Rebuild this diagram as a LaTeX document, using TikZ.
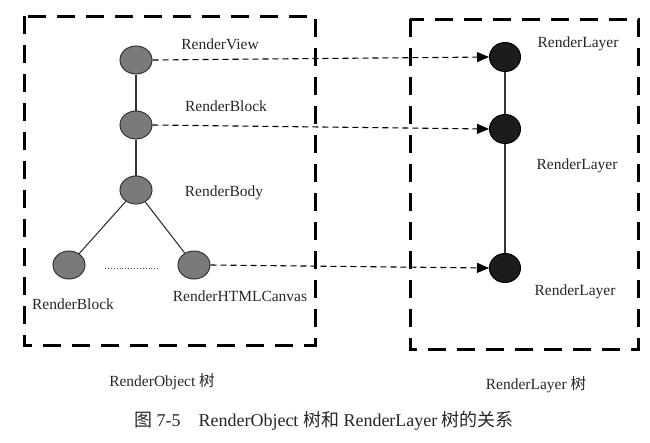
\documentclass[tikz,border=0pt]{standalone}
\usepackage{fontspec}
\setmainfont{Liberation Serif}
\newfontfamily\cjk{Noto Sans CJK SC}
\usepackage{tikz}
\usetikzlibrary{arrows.meta,positioning,shapes.geometric}
\definecolor{cObj}{HTML}{7A7A7A}
\definecolor{cLay}{HTML}{1C1C1C}
\definecolor{cEdge}{HTML}{333333}
\tikzset{
  objnode/.style ={ellipse,draw=cEdge,fill=cObj,line width=1pt,inner sep=0pt,
                   minimum width=32pt,minimum height=28pt},
  laynode/.style ={objnode,fill=cLay,draw=black,minimum width=31pt,minimum height=29pt},
  treebox/.style ={draw=black,line width=3pt,dash pattern=on 18pt off 11pt},
  edge/.style    ={draw=cEdge,line width=1.1pt},
  link/.style    ={-{Triangle[length=12pt,width=10pt]},draw=black,line width=1.1pt,
                   dash pattern=on 6pt off 4pt},
  lbl/.style     ={font=\fontsize{15.5}{18}\selectfont,text=black!85,inner sep=0pt},
  figcap/.style  ={font=\fontsize{18}{21}\selectfont,text=black!85,inner sep=0pt},
}

\begin{document}
\begin{tikzpicture}[x=1pt, y=-1pt]
\useasboundingbox (0,0) rectangle (650,442);

% ===== group boxes ==========================================================
\draw[treebox] (24,16) rectangle (315,345);
\draw[treebox] (410,19) rectangle (638,349);

% ===== RenderObject tree ====================================================
\node[objnode] (rView)   at (136,60)  {};
\node[objnode] (rBlock)  at (136,125) {};
\node[objnode] (rBody)   at (136,190) {};
\node[objnode] (rBlockL) at (69,265)  {};
\node[objnode] (rCanvas) at (194,265) {};
\draw[edge] (rView) -- (rBlock);
\draw[edge] (rBlock) -- (rBody);
\draw[edge] (rBody) -- (rBlockL);
\draw[edge] (rBody) -- (rCanvas);
\coordinate (dotA) at (105,268);
\coordinate (dotB) at (158,268);
\draw[black!70,line width=0.9pt,dotted] (dotA) -- (dotB);

\node[lbl] (tView)    at (220,44)  {RenderView};
\node[lbl] (tBlock)   at (226,106) {RenderBlock};
\node[lbl] (tBody)    at (224,193) {RenderBody};
\node[lbl] (tBlockL)  at (73,304)  {RenderBlock};
\node[lbl] (tCanvas)  at (240,296) {RenderHTMLCanvas};

% ===== RenderLayer tree =====================================================
\node[laynode] (lay1) at (505,57)  {};
\node[laynode] (lay2) at (505,129) {};
\node[laynode] (lay3) at (505,268) {};
\draw[edge] (lay1) -- (lay2);
\draw[edge] (lay2) -- (lay3);

\node[lbl] (tLay1) at (578,44)  {RenderLayer};
\node[lbl] (tLay2) at (577,166) {RenderLayer};
\node[lbl] (tLay3) at (575,292) {RenderLayer};

% ===== object -> layer links ================================================
\draw[link] (rView.east)   -- (lay1.west);
\draw[link] (rBlock.east)  -- (lay2.west);
\draw[link] (rCanvas.east) -- (lay3.west);

% ===== captions =============================================================
\node[lbl] (capObj) at (162,382) {RenderObject {\cjk 树}};
\node[lbl] (capLay) at (536,385) {RenderLayer {\cjk 树}};
\node[figcap] (capFig) at (324,421)
  {{\cjk 图} 7-5\quad RenderObject {\cjk 树和} RenderLayer {\cjk 树的关系}};
\end{tikzpicture}
\end{document}
